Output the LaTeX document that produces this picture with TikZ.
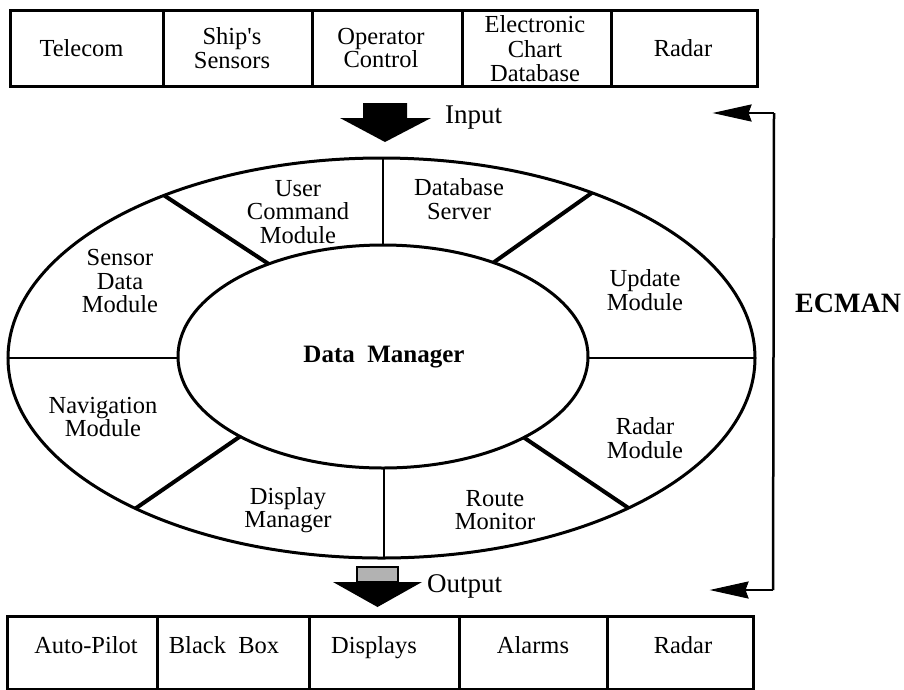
\documentclass[tikz,border=0pt]{standalone}
\usepackage{fontspec}
\setmainfont{Liberation Serif}
\usetikzlibrary{arrows.meta,calc}
\begin{document}
\begin{tikzpicture}[x=1pt,y=-1pt,
  lbl/.style={align=center, font=\fontsize{24.5}{23.5}\selectfont, inner sep=0pt},
  blbl/.style={anchor=base, font=\fontsize{24.5}{23.5}\selectfont, inner sep=0pt},
  iolbl/.style={anchor=west, font=\fontsize{27}{28}\selectfont, inner sep=0pt},
  ring/.style={line width=3pt},
  thindiv/.style={line width=2.2pt},
  thickdiv/.style={line width=4pt},
  boxline/.style={line width=3pt},
  ecline/.style={line width=2.5pt},
  echead/.style={fill=black, draw=black, line width=1pt, line join=miter},
]
\useasboundingbox (0,0) rectangle (904,689);

% ---------- top input boxes ----------
\draw[boxline] (10,10) rectangle (757,86);
\foreach \x in {163,312,462,611} \draw[boxline] (\x,10) -- (\x,86);
\node[lbl] (telecom) at (81.5,48) {Telecom};
\node[lbl] (sensors) at (232,48) {Ship\textquotesingle s\\Sensors};
\node[lbl] (opctl)   at (381,48) {Operator\\Control};
\node[lbl, font=\fontsize{24.5}{24.5}\selectfont] (ecdb) at (535,49) {Electronic\\Chart\\Database};
\node[lbl] (radarin) at (683,48) {Radar};

% ---------- input arrow ----------
\fill[black] (363,103) -- (407,103) -- (407,118) -- (431,118) -- (385,142) -- (340,118) -- (363,118) -- cycle;
\node[iolbl] (input) at (445,118) {Input};

% ---------- ellipses ----------
\draw[ring] (381.5,358) ellipse [x radius=373.5pt, y radius=200pt];
\draw[ring] (383,356.5) ellipse [x radius=205pt, y radius=111.5pt];

% dividers
\coordinate (tlo) at ({381.5+373.5*cos(125.6)},{358-200*sin(125.6)});
\coordinate (tli) at ({383+205*cos(123.9)},{356.5-111.5*sin(123.9)});
\coordinate (tro) at ({381.5+373.5*cos(55.7)},{358-200*sin(55.7)});
\coordinate (tri) at ({383+205*cos(57.4)},{356.5-111.5*sin(57.4)});
\coordinate (blo) at ({381.5+373.5*cos(228.8)},{358-200*sin(228.8)});
\coordinate (bli) at ({383+205*cos(225.8)},{356.5-111.5*sin(225.8)});
\coordinate (bro) at ({381.5+373.5*cos(311.4)},{358-200*sin(311.4)});
\coordinate (bri) at ({383+205*cos(313.4)},{356.5-111.5*sin(313.4)});
\draw[thickdiv] (tlo) -- (tli);
\draw[thickdiv] (tro) -- (tri);
\draw[thickdiv] (blo) -- (bli);
\draw[thickdiv] (bro) -- (bri);
\draw[thindiv] (383,158) -- (383,245);
\draw[thindiv] (384,468) -- (384,558);
\draw[thindiv] (8,358) -- (178,358);
\draw[thindiv] (588,358) -- (755,358);

% module labels
\node[lbl] (ucm)  at (298,212) {User\\Command\\Module};
\node[lbl] (dbs)  at (459,199) {Database\\Server};
\node[lbl] (sdm)  at (120,281) {Sensor\\Data\\Module};
\node[lbl] (upd)  at (645,290) {Update\\Module};
\node[lbl] (nav)  at (103,417) {Navigation\\Module};
\node[lbl] (radm) at (645,438) {Radar\\Module};
\node[lbl] (dispm) at (288,510) {Display\\Manager};
\node[lbl] (route) at (495,510) {Route\\Monitor};
\node[lbl, font=\fontsize{25}{26}\selectfont\bfseries] (dm) at (384,357) {Data~~Manager};

% ---------- output arrow ----------
\draw[fill=gray!60, line width=1.2pt] (357,567) rectangle (398,582);
\fill[black] (333,582) -- (422,582) -- (377.5,607) -- cycle;
\node[iolbl] (output) at (427,586) {Output};

% ---------- ECMAN bracket ----------
\coordinate (ectop) at (774,113);
\coordinate (ectoptip) at (715,113);
\coordinate (ecbot) at (773,590);
\coordinate (ecbottip) at (712,590);
\draw[ecline] (ectop) -- (ecbot);
\draw[ecline] (ectop) -- ($(ectoptip)+(30,0)$);
\draw[ecline] (ecbot) -- ($(ecbottip)+(30,0)$);
\draw[echead] (ectoptip) -- ++(36,-8) -- ++(-3,8) -- ++(3,8) -- cycle;
\draw[echead] (ecbottip) -- ++(36,-8) -- ++(-3,8) -- ++(3,8) -- cycle;
\node[anchor=west, inner sep=0pt, font=\fontsize{28}{30}\selectfont\bfseries] (ecman) at (795,303) {ECMAN};

% ---------- bottom output boxes ----------
\draw[boxline] (7,616) rectangle (753,689);
\foreach \x in {157,309,459,607} \draw[boxline] (\x,616) -- (\x,689);
\node[blbl] (autop)  at (86,653) {Auto-Pilot};
\node[blbl] (bbox)   at (224,653) {Black~~Box};
\node[blbl] (displ)  at (374,653) {Displays};
\node[blbl] (alarms) at (533,653) {Alarms};
\node[blbl] (radarout) at (683,653) {Radar};
\end{tikzpicture}
\end{document}
